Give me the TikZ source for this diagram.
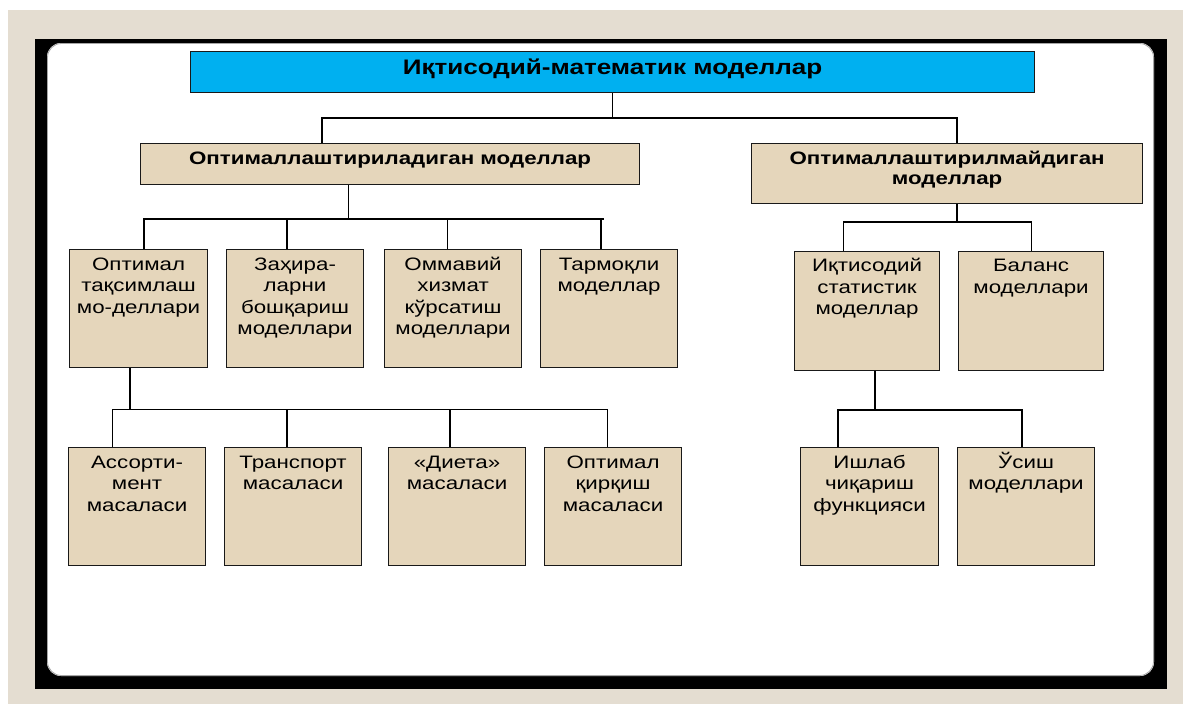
\documentclass[tikz,border=0pt]{standalone}
\usepackage{fontspec}
\setmainfont{Liberation Sans}[FakeStretch=1.24]
\hyphenpenalty=10000
\exhyphenpenalty=10000
\definecolor{boxfill}{RGB}{229,214,187}
\definecolor{bgbeige}{RGB}{228,221,209}
\definecolor{titleblue}{RGB}{0,176,240}
\tikzset{
  cell/.style={draw=black!90, fill=boxfill, line width=1.1pt, inner sep=0pt, anchor=north west,
    font=\fontsize{18}{21.5}\selectfont},
  headcell/.style={cell, font=\fontsize{18}{20}\selectfont\bfseries},
  titlecell/.style={cell, fill=titleblue, font=\fontsize{21}{24}\selectfont\bfseries},
  conn/.style={draw=black, line width=1.1pt}
}
\begin{document}
\begin{tikzpicture}[x=1pt,y=-1pt]
\useasboundingbox (0,0) rectangle (1183,704);
\fill[white] (0,0) rectangle (1183,704);
\fill[bgbeige] (8,10) rectangle (1183,704);
\fill[black] (35,39) rectangle (1167,689);
\fill[white, rounded corners=14pt] (47,43) rectangle (1154,676);
\draw[black!35, line width=0.8pt, rounded corners=14pt] (47.5,43.5) rectangle (1153.5,675.5);

% title
\node[titlecell] (top) at (190,51) {\parbox[c][41pt][t]{844pt}{\centering\rule{0pt}{22.5pt}Иқтисодий-математик моделлар}};

% level 2
\node[headcell] (L) at (140,143) {\parbox[c][41pt][t]{499pt}{\centering\rule{0pt}{20.5pt}Оптималлаштириладиган моделлар}};
\node[headcell] (R) at (751,143) {\parbox[c][60pt][t]{391pt}{\centering\rule{0pt}{20.5pt}Оптималлаштирилмайдиган\\моделлар}};

% level 3 left
\node[cell] (a1) at (69,249) {\parbox[c][118pt][t]{138pt}{\centering\rule{0pt}{20.5pt}Оптимал\\тақсимлаш\\мо-деллари}};
\node[cell] (a2) at (226,249) {\parbox[c][118pt][t]{137pt}{\centering\rule{0pt}{20.5pt}Заҳира-\\ларни\\бошқариш\\моделлари}};
\node[cell] (a3) at (384,249) {\parbox[c][118pt][t]{137pt}{\centering\rule{0pt}{20.5pt}Оммавий\\хизмат\\кўрсатиш\\моделлари}};
\node[cell] (a4) at (540,249) {\parbox[c][118pt][t]{137pt}{\centering\rule{0pt}{20.5pt}Тармоқли\\моделлар}};

% level 3 right
\node[cell] (b1) at (794,250.5) {\parbox[c][119pt][t]{145pt}{\centering\rule{0pt}{20.5pt}Иқтисодий\\статистик\\моделлар}};
\node[cell] (b2) at (958,250.5) {\parbox[c][119pt][t]{145pt}{\centering\rule{0pt}{20.5pt}Баланс\\моделлари}};

% level 4 left
\node[cell] (c1) at (68,447) {\parbox[c][118pt][t]{137pt}{\centering\rule{0pt}{20.5pt}Ассорти-\\мент\\масаласи}};
\node[cell] (c2) at (224,447) {\parbox[c][118pt][t]{137pt}{\centering\rule{0pt}{20.5pt}Транспорт\\масаласи}};
\node[cell] (c3) at (388,447) {\parbox[c][118pt][t]{137pt}{\centering\rule{0pt}{20.5pt}«Диета»\\масаласи}};
\node[cell] (c4) at (544,447) {\parbox[c][118pt][t]{137pt}{\centering\rule{0pt}{20.5pt}Оптимал\\қирқиш\\масаласи}};

% level 4 right
\node[cell] (d1) at (800,447) {\parbox[c][118pt][t]{138pt}{\centering\rule{0pt}{20.5pt}Ишлаб\\чиқариш\\функцияси}};
\node[cell] (d2) at (957,447) {\parbox[c][118pt][t]{137pt}{\centering\rule{0pt}{20.5pt}Ўсиш\\моделлари}};

% connectors level 1 -> 2
\coordinate (b1l) at (322,118);
\coordinate (b1r) at (957,118);
\draw[conn] (top.south) -- (top.south |- b1l);
\draw[conn] (L.north -| b1l) -- (b1l) -- (b1r) -- (R.north -| b1r);

% L -> level 3
\coordinate (v2) at (348.5,219);
\coordinate (b2l) at (144,219);
\coordinate (b2r) at (604,219);
\coordinate (e2) at (287,219);
\coordinate (e3) at (447.5,219);
\coordinate (e4) at (601,219);
\draw[conn] (L.south -| v2) -- (v2);
\draw[conn] (a1.north -| b2l) -- (b2l) -- (b2r);
\draw[conn] (e2) -- (a2.north -| e2);
\draw[conn] (e3) -- (a3.north -| e3);
\draw[conn] (e4) -- (a4.north -| e4);

% R -> level 3
\coordinate (v2r) at (957,222);
\coordinate (r2l) at (843.5,222);
\coordinate (r2r) at (1031.5,222);
\draw[conn] (R.south -| v2r) -- (v2r);
\draw[conn] (b1.north -| r2l) -- (r2l) -- (r2r) -- (b2.north -| r2r);

% a1 -> level 4
\coordinate (v3) at (130,409.5);
\coordinate (f1) at (112.5,409.5);
\coordinate (f2) at (287,409.5);
\coordinate (f3) at (450,409.5);
\coordinate (f4) at (607.5,409.5);
\draw[conn] (a1.south -| v3) -- (v3);
\draw[conn] (c1.north -| f1) -- (f1) -- (f4) -- (c4.north -| f4);
\draw[conn] (f2) -- (c2.north -| f2);
\draw[conn] (f3) -- (c3.north -| f3);

% b1 -> level 4 right
\coordinate (v3r) at (875,410);
\coordinate (g1) at (838,410);
\coordinate (g2) at (1022,410);
\draw[conn] (b1.south -| v3r) -- (v3r);
\draw[conn] (d1.north -| g1) -- (g1) -- (g2) -- (d2.north -| g2);
\end{tikzpicture}
\end{document}
